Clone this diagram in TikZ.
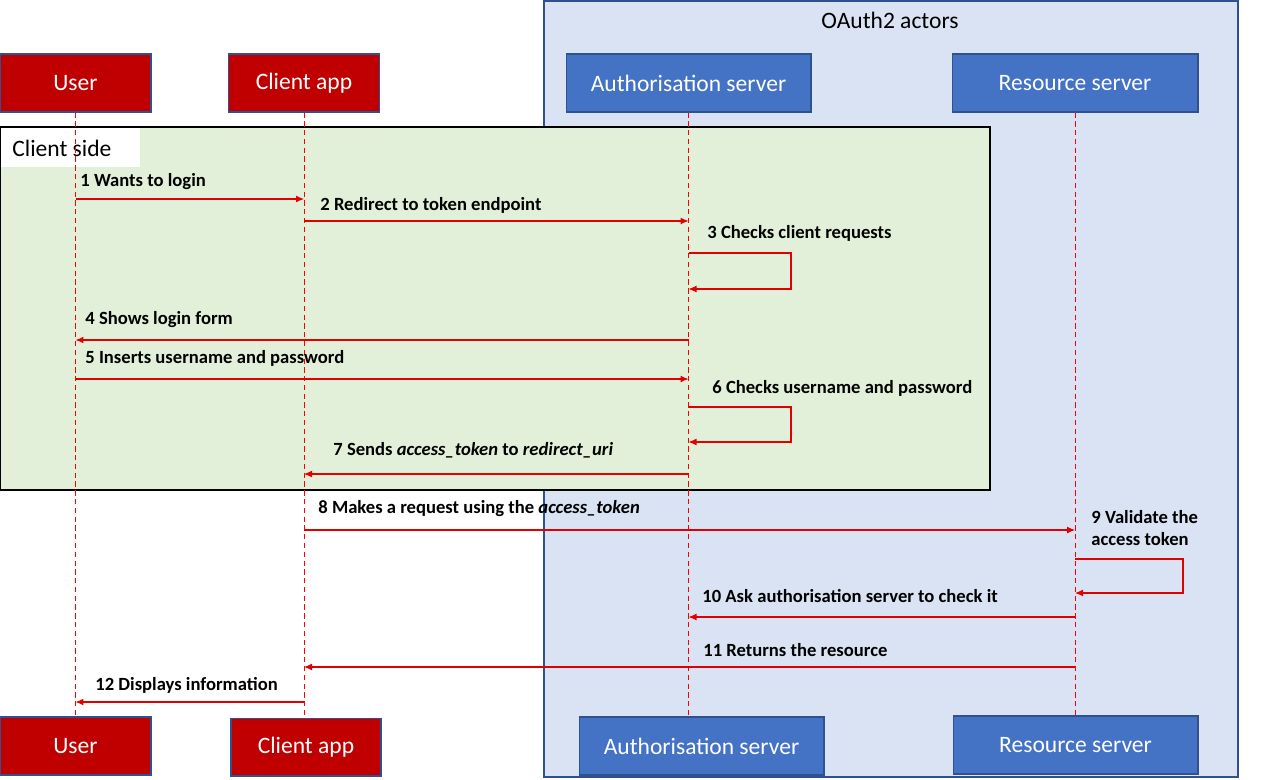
\documentclass[tikz,border=0pt]{standalone}
\usepackage{fontspec}
\setmainfont{Carlito}
\usetikzlibrary{positioning,arrows.meta}
\definecolor{actred}{HTML}{C00000}
\definecolor{actblue}{HTML}{4472C4}
\definecolor{actline}{HTML}{2F528F}
\definecolor{oauthbg}{HTML}{DAE3F3}
\definecolor{clientbg}{HTML}{E2F0D9}
\definecolor{msgred}{HTML}{E00000}
\tikzset{
  actor/.style={draw=actline, line width=0.6pt, text=white, minimum height=1.16cm, inner sep=0pt, font=\fontsize{13.4}{15}\selectfont},
  life/.style={draw=red, line width=0.5pt, dash pattern=on 3pt off 2pt},
  msg/.style={draw=msgred, line width=0.6pt, -{Latex[length=1.6mm, width=1.4mm]}},
  lbl/.style={anchor=west, inner sep=0pt, font=\bfseries\fontsize{10.6}{13}\selectfont}
}
\begin{document}
\begin{tikzpicture}[x=0.02cm, y=-0.02cm]
    \useasboundingbox (0,0) rectangle (1280,779);
    % groups
    \path[draw=actline, fill=oauthbg, line width=0.6pt] (544,1) rectangle (1238,777);
    \node[font=\fontsize{13.4}{15}\selectfont] (oauth) at (890,20) {OAuth2 actors};
    \path[draw=black, fill=clientbg, line width=0.6pt] (0,127) rectangle (990,490);
    \path[fill=white] (1,128) rectangle (140,167);
    \node[anchor=west, inner sep=0pt, font=\fontsize{13.4}{15}\selectfont] (clientside) at (12,148) {Client side};
    % actors, top and bottom
    \foreach \name/\x/\y/\w/\col/\txt in {user-top/75.5/83/3.02/actred/User, client-top/304/83/3.02/actred/Client app, auth-top/688.5/83/4.9/actblue/Authorisation server, res-top/1075/83/4.92/actblue/Resource server, user-bot/75.5/746/3.02/actred/User, client-bot/306/747/3.0/actred/Client app, auth-bot/701.5/746/4.9/actblue/Authorisation server, res-bot/1075.5/745/4.9/actblue/Resource server}{\node[actor, fill=\col, minimum width=\w cm] (\name) at (\x,\y) {\txt};}
    \foreach \a in {user,client,auth,res}{\draw[life] (\a-top.south) -- (\a-top.south |- \a-bot.north);}
    % messages
    \draw[msg] (user-top |- 0,199) -- (client-top |- 0,199);
    \node[lbl] (m1) at (80,182) {1 Wants to login};
    \draw[msg] (client-top |- 0,221) -- (auth-top |- 0,221);
    \node[lbl] (m2) at (320,205) {2 Redirect to token endpoint};
    \draw[msg] (auth-top |- 0,253) -| (791,289) -- (auth-top |- 0,289);
    \node[lbl] (m3) at (707,233) {3 Checks client requests};
    \draw[msg] (auth-top |- 0,340) -- (user-top |- 0,340);
    \node[lbl] (m4) at (85,320) {4 Shows login form};
    \draw[msg] (user-top |- 0,379) -- (auth-top |- 0,379);
    \node[lbl] (m5) at (85,358) {5 Inserts username and password};
    \draw[msg] (auth-top |- 0,407) -| (791,442) -- (auth-top |- 0,442);
    \node[lbl] (m6) at (712,388) {6 Checks username and password};
    \draw[msg] (auth-top |- 0,474) -- (client-top |- 0,474);
    \node[lbl] (m7) at (333,450) {7 Sends \textit{access\_token} to \textit{redirect\_uri}};
    \draw[msg] (client-top |- 0,530) -- (res-top |- 0,530);
    \node[lbl] (m8) at (318,509) {8 Makes a request using the \textit{access\_token}};
    \draw[msg] (res-top |- 0,559) -| (1183,593) -- (res-top |- 0,593);
    \node[lbl, align=left] (m9) at (1091,528) {9 Validate the\\access token};
    \draw[msg] (res-top |- 0,617) -- (auth-top |- 0,617);
    \node[lbl] (m10) at (702,596) {10 Ask authorisation server to check it};
    \draw[msg] (res-top |- 0,667) -- (client-top |- 0,667);
    \node[lbl] (m11) at (703,650) {11 Returns the resource};
    \draw[msg] (client-top |- 0,702) -- (user-top |- 0,702);
    \node[lbl] (m12) at (95,685) {12 Displays information};
\end{tikzpicture}
\end{document}
